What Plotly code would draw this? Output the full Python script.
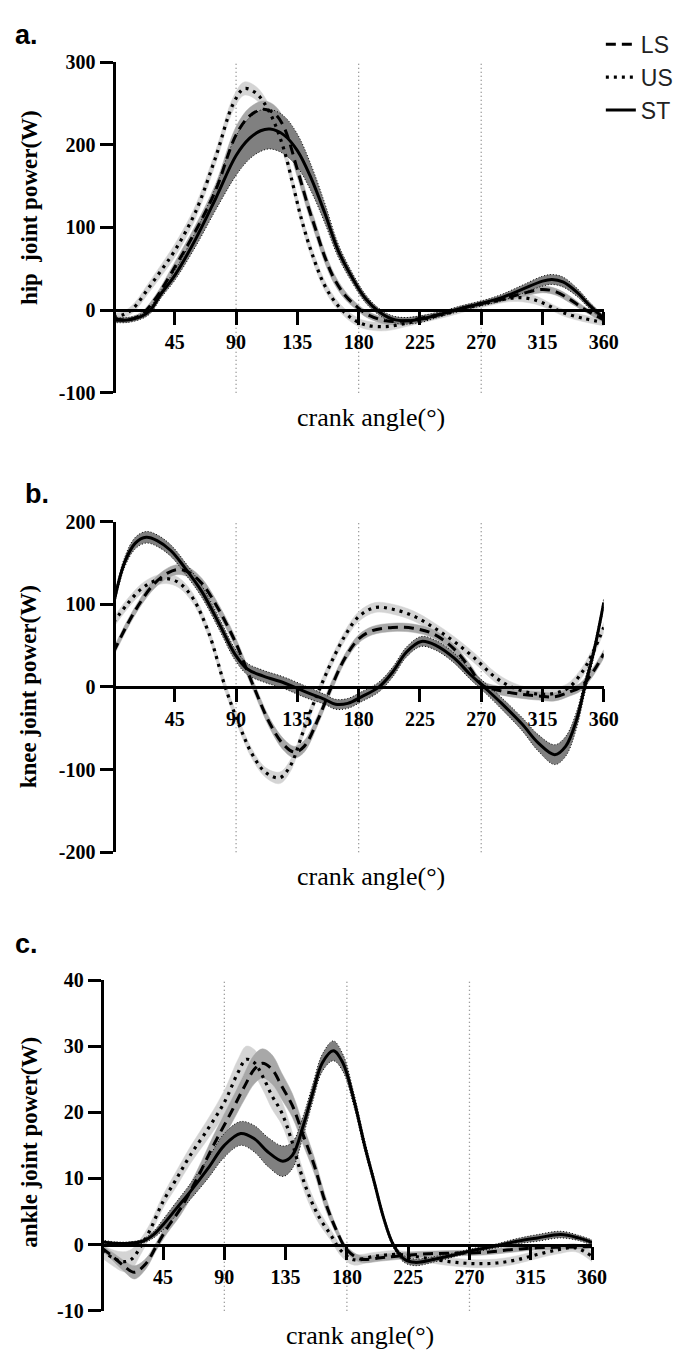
import plotly.graph_objects as go

# ---------------- data ----------------
# Panel a: hip joint power (W)
A_LS_X = [0,10,20,30,45,60,75,90,100,110,118,125,135,143,148,155,162,170,178,186,200,215,225,240,255,270,285,300,315,325,335,345,360]
A_LS_Y = [-10,-12,-6,12,52,95,145,212,235,243,238,222,170,125,100,65,38,18,5,-5,-13,-13,-10,-5,2,8,13,20,25,22,13,2,-12]
A_LS_SD = [3,3,3,4,6,7,8,10,10,10,10,10,9,8,8,7,6,5,4,4,4,4,3,3,3,3,3,4,4,4,4,3,3]

A_US_X = [0,8,15,25,35,45,60,75,88,96,105,115,125,132,138,145,155,165,175,185,200,215,230,245,260,275,290,300,310,320,330,345,360]
A_US_Y = [-8,-5,3,25,48,72,118,185,250,268,262,238,195,150,110,72,30,5,-10,-18,-20,-16,-10,-4,3,9,14,15,12,5,-3,-10,-15]
A_US_SD = [4,4,5,6,7,8,8,8,8,8,8,8,8,8,7,7,6,5,5,5,5,4,4,4,4,4,4,5,5,4,4,4,4]

A_ST_X = [0,10,20,27,35,45,60,75,90,100,108,115,125,135,145,155,165,175,185,195,205,215,225,240,255,270,285,300,315,322,330,340,350,360]
A_ST_Y = [-12,-12,-8,0,20,42,85,135,187,208,217,219,212,193,160,118,72,40,14,-2,-11,-13,-11,-5,2,8,15,25,35,37,34,22,5,-10]
A_ST_SD = [3,3,3,4,5,6,9,14,24,25,25,24,23,20,16,12,8,6,5,4,4,4,4,3,3,3,4,5,6,6,6,5,4,3]

# Panel b: knee joint power (W)
B_LS_X = [0,10,20,30,40,48,56,65,75,89,103,115,125,133,140,150,160,170,180,190,205,220,235,250,262,271,285,300,312,324,335,343,352,360]
B_LS_Y = [42,75,103,125,138,142,138,125,100,56,0,-45,-70,-79,-72,-40,0,35,58,68,72,71,64,46,22,2,-5,-9,-11,-12,-6,0,18,40]
B_LS_SD = [5,5,5,6,6,6,6,6,6,6,6,6,7,7,7,6,6,5,5,5,5,5,5,5,5,5,5,5,5,5,5,5,5,5]

B_US_X = [0,10,20,30,39,48,58,70,82,92,102,112,122,130,138,145,152,160,170,180,192,205,220,235,250,265,280,292,305,318,328,335,345,353,360]
B_US_Y = [78,100,118,128,131,126,108,65,0,-45,-82,-104,-110,-95,-60,-28,0,30,62,85,96,94,86,72,55,35,12,0,-7,-9,-6,0,20,45,72]
B_US_SD = [6,6,6,6,6,6,6,6,6,6,6,6,7,7,6,6,6,6,6,6,6,6,6,6,6,6,6,6,6,6,6,6,6,6,6]

B_ST_X = [0,8,16,24,32,42,52,65,78,89,98,110,125,141,155,163,172,182,195,205,215,226,237,250,262,272,285,300,312,324,332,340,346,353,360]
B_ST_Y = [100,150,174,181,177,165,145,115,75,40,22,13,5,-6,-15,-21,-20,-12,0,18,42,55,50,35,15,0,-20,-45,-68,-82,-72,-40,0,45,102]
B_ST_SD = [5,6,7,7,7,7,7,7,7,7,7,7,7,7,6,6,6,6,6,6,6,6,6,6,6,6,7,8,10,12,12,10,8,6,5]

# Panel c: ankle joint power (W)
C_LS_X = [0,8,16,24,32,40,48,58,70,82,95,105,112,118,125,132,140,148,156,164,172,180,190,205,220,240,260,280,300,320,340,360]
C_LS_Y = [-0.5,-1.8,-3.2,-4.2,-3,-0.3,2.5,5.5,10,15,20,24,26.5,27.4,26.5,24,21,16.5,12,6.5,2.3,-0.8,-2.2,-2,-1.7,-1.4,-1.3,-1.2,-0.8,-0.5,-0.4,-0.3]
C_LS_SD = [0.4,0.6,0.8,1,0.8,0.6,0.8,1,1.2,1.5,1.8,2,2.2,2.2,2.2,2,1.8,1.5,1.2,1,0.6,0.5,0.5,0.5,0.5,0.4,0.4,0.4,0.4,0.3,0.3,0.3]

C_US_X = [0,8,16,22,28,35,45,55,65,78,90,100,106,112,118,125,132,139,146,153,160,168,176,185,200,215,230,245,260,275,290,305,320,335,348,360]
C_US_Y = [-1,-2,-2.6,-2.2,-0.5,2,6.5,10,13.5,17.5,21.5,26,28,27.5,25.5,22.5,20,16,11,7,4,1.5,-1,-2.3,-1.8,-1.5,-1.8,-2.3,-2.7,-2.9,-2.8,-2.3,-1.5,-0.8,-0.5,-1.8]
C_US_SD = [1,1.2,1.5,1.5,1.2,1,1,1.2,1.3,1.5,1.8,2,2,2,2,2,1.8,1.6,1.4,1.2,1,0.8,0.8,0.8,0.6,0.6,0.6,0.6,0.6,0.6,0.6,0.6,0.6,0.6,0.6,0.8]

C_ST_X = [0,10,20,30,38,45,55,65,78,90,102,112,122,133,140,148,155,162,170,177,185,193,200,207,214,222,230,245,260,275,290,305,320,337,350,360]
C_ST_Y = [0.4,0.2,0.2,0.5,1.5,3,5.5,8,11.5,15,16.8,16,14,12.6,13.5,18,23,27.5,29.3,27.5,22,15,9.5,4,0,-2.2,-2.7,-2.2,-1.5,-0.8,-0.2,0.5,1,1.5,1,0.3]
C_ST_SD = [0.3,0.2,0.2,0.3,0.5,0.8,1,1.2,1.5,1.8,1.8,2,2.2,2.3,2,1.5,1.3,1.3,1.5,1.3,1,0.8,0.6,0.5,0.4,0.5,0.5,0.4,0.3,0.3,0.3,0.4,0.5,0.5,0.4,0.4]

X_TICKS = [45, 90, 135, 180, 225, 270, 315, 360]
GUIDE_X = [90, 180, 270]
GROUPS = ["LS", "US", "ST"]

# ---------------- styling ----------------
W, H = 700, 1360
def fx(px): return px / W
def fy(py): return 1 - py / H

LINE_STYLE = {
    "LS": dict(dash="10px,6px", width=3),
    "US": dict(dash="3px,5px", width=3.2),
    "ST": dict(dash="solid", width=3),
}
BAND_COLOR = {"LS": "#a8a8a8", "US": "#d4d4d4", "ST": "#808080"}

panels = [
    dict(tag="a.", ytitle="hip  joint power(W)", yrange=[-100, 300], yticks=[-100, 0, 100, 200, 300],
         box=(116, 617, 52, 388), ytitle_y=200, tag_pos=(13, 24),
         data={"LS": (A_LS_X, A_LS_Y, A_LS_SD), "US": (A_US_X, A_US_Y, A_US_SD), "ST": (A_ST_X, A_ST_Y, A_ST_SD)}),
    dict(tag="b.", ytitle="knee joint power(W)", yrange=[-200, 200], yticks=[-200, -100, 0, 100, 200],
         box=(116, 617, 519, 855), ytitle_y=687, tag_pos=(23, 491),
         data={"LS": (B_LS_X, B_LS_Y, B_LS_SD), "US": (B_US_X, B_US_Y, B_US_SD), "ST": (B_ST_X, B_ST_Y, B_ST_SD)}),
    dict(tag="c.", ytitle="ankle joint power(W)", yrange=[-10, 40], yticks=[-10, 0, 10, 20, 30, 40],
         box=(104, 605, 985, 1321), ytitle_y=1150, tag_pos=(13, 948),
         data={"LS": (C_LS_X, C_LS_Y, C_LS_SD), "US": (C_US_X, C_US_Y, C_US_SD), "ST": (C_ST_X, C_ST_Y, C_ST_SD)}),
]

tick_font = dict(family="Liberation Serif", size=20, color="black", weight="bold")

fig = go.Figure()
layout = dict(width=W, height=H, margin=dict(l=0, r=0, t=0, b=0),
              plot_bgcolor="white", paper_bgcolor="white", showlegend=True)
annotations = []
shapes = []

for i, p in enumerate(panels):
    n = "" if i == 0 else str(i + 1)
    xa, ya = "x" + n, "y" + n
    x0, x1, y0, y1 = p["box"]
    ydom = [fy(y1), fy(y0)]
    ymin, ymax = p["yrange"]
    zero_pos = ydom[0] + (0 - ymin) / (ymax - ymin) * (ydom[1] - ydom[0])

    layout["xaxis" + n] = dict(domain=[fx(x0), fx(x1)], range=[0, 360], tickvals=X_TICKS,
                               ticktext=[str(v) for v in X_TICKS],
                               ticks="outside", ticklen=13, tickwidth=3, showline=True, linewidth=3,
                               linecolor="black", tickcolor="black", anchor="free", position=zero_pos,
                               showgrid=False, zeroline=False, tickfont=tick_font, fixedrange=True)
    layout["yaxis" + n] = dict(domain=ydom, range=p["yrange"], tickvals=p["yticks"],
                               ticktext=[str(v) for v in p["yticks"]],
                               ticks="outside", ticklen=13, tickwidth=3, showline=True, linewidth=3,
                               linecolor="black", tickcolor="black", anchor="free", position=fx(x0),
                               showgrid=False, zeroline=False, tickfont=tick_font, fixedrange=True)

    for g in GUIDE_X:
        shapes.append(dict(type="line", xref=xa, yref=ya + " domain", x0=g, x1=g, y0=0, y1=1,
                           line=dict(color="#808080", width=1.3, dash="1px,3px"), layer="below"))

    # bands
    for g in ["US", "LS", "ST"]:
        X, Y, SD = p["data"][g]
        up = [m + s for m, s in zip(Y, SD)]
        lo = [m - s for m, s in zip(Y, SD)]
        if g == "ST":
            edge = dict(color="black", width=1, dash="1px,2px", shape="spline")
        else:
            edge = dict(color=BAND_COLOR[g], width=0.5, shape="spline")
        fig.add_trace(go.Scatter(x=X, y=up, mode="lines", line=edge, xaxis=xa, yaxis=ya,
                                 showlegend=False, hoverinfo="skip"))
        fig.add_trace(go.Scatter(x=X, y=lo, mode="lines", line=edge, fill="tonexty",
                                 fillcolor=BAND_COLOR[g], xaxis=xa, yaxis=ya,
                                 showlegend=False, hoverinfo="skip"))
    # mean lines
    for g in ["US", "LS", "ST"]:
        X, Y, SD = p["data"][g]
        st = LINE_STYLE[g]
        fig.add_trace(go.Scatter(x=X, y=Y, mode="lines", name=g,
                                 line=dict(color="black", width=st["width"], dash=st["dash"], shape="spline"),
                                 xaxis=xa, yaxis=ya, showlegend=(i == 0),
                                 legendrank={"LS": 1, "US": 2, "ST": 3}[g]))

    annotations.append(dict(text=p["tag"], x=fx(p["tag_pos"][0]), y=fy(p["tag_pos"][1]), xref="paper", yref="paper",
                            xanchor="left", yanchor="middle", showarrow=False,
                            font=dict(family="Liberation Sans", size=27, color="black", weight="bold")))
    annotations.append(dict(text=p["ytitle"], x=fx(30), y=fy(p["ytitle_y"]), xref="paper", yref="paper",
                            xanchor="center", yanchor="middle", textangle=-90, showarrow=False,
                            font=dict(family="Liberation Serif", size=23, color="black", weight="bold")))
    annotations.append(dict(text="crank angle(°)", x=fx((x0 + x1) / 2 + 13), y=fy(y1 + 25), xref="paper", yref="paper",
                            xanchor="center", yanchor="middle", showarrow=False,
                            font=dict(family="Liberation Serif", size=26, color="black")))

layout["annotations"] = annotations
layout["shapes"] = shapes
layout["legend"] = dict(x=fx(614), y=fy(12), xanchor="left", yanchor="top", bgcolor="rgba(0,0,0,0)",
                        font=dict(family="Liberation Sans", size=23, color="#222"), tracegroupgap=0,
                        itemwidth=30, traceorder="normal")
fig.update_layout(**layout)

fig.write_html("out.html", config={"displayModeBar": False},
               post_script="document.body.style.margin='0';")
